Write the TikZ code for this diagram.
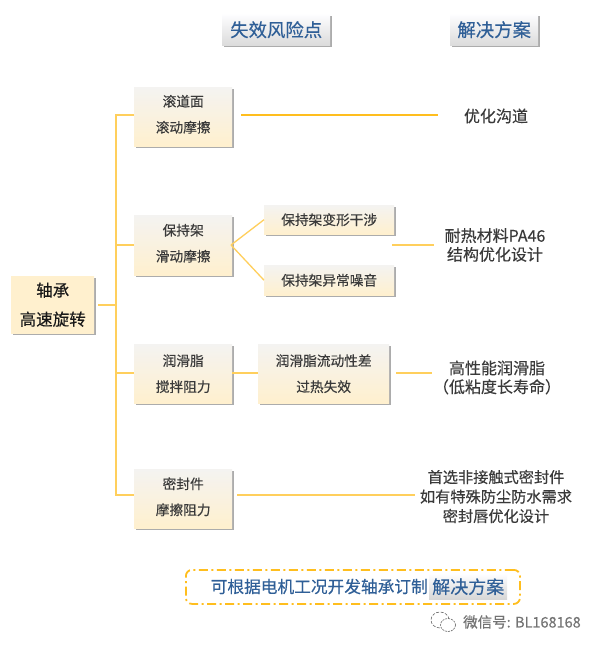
\documentclass[tikz,border=0pt]{standalone}
\usepackage{fontspec}
\setmainfont{Noto Sans CJK SC}[FakeBold=0.35]
\usetikzlibrary{shadows,calc}
\definecolor{lineY}{HTML}{FFCF5C}
\definecolor{lineO}{HTML}{FFBE1E}
\definecolor{boxT}{HTML}{F4F3F1}
\definecolor{boxB}{HTML}{FFF0CE}
\definecolor{txt}{HTML}{3A3A3A}
\definecolor{blueT}{HTML}{2F5F97}
\tikzset{
  x=1pt,y=-1pt,
  riskbox/.style={rectangle,anchor=north west,top color=boxT,bottom color=boxB,draw=none,inner sep=0pt,align=center,
    text=txt,font=\fontsize{13.7}{26}\selectfont,
    drop shadow={shadow xshift=1.8pt,shadow yshift=-1.8pt,fill=black!50,opacity=.65}},
  rootbox/.style={riskbox,top color=boxB,bottom color=boxB,font=\fontsize{16.5}{29}\selectfont,text=black!90},
  headbox/.style={rectangle,anchor=north west,top color=white!90!blue!6,bottom color=black!14,inner sep=0pt,
    text=blueT,font=\fontsize{18.4}{20}\selectfont,
    drop shadow={shadow xshift=1.5pt,shadow yshift=-1.5pt,fill=black!50,opacity=.65}},
  soln/.style={align=center,text=txt,font=\fontsize{16}{18.8}\selectfont,inner sep=0pt},
  wire/.style={draw=lineY,line width=1.3pt},
}
\newcommand{\rbox}[6]{\node[#1,minimum width=#4pt,minimum height=#5pt] (#2) at #3 {#6};}
\newcommand{\lift}[1]{\rule[-#1pt]{0pt}{#1pt}}
\begin{document}
\begin{tikzpicture}
\useasboundingbox[fill=white] (0,0) rectangle (600,649);
% headers
\rbox{headbox}{hrisk}{(222,14)}{108}{31}{失效风险点}
\rbox{headbox}{hsol}{(450,14)}{88}{31}{解决方案}
% boxes
\rbox{rootbox}{root}{(11,276)}{83}{57}{轴承\\高速旋转}
\rbox{riskbox}{a}{(134,87)}{98}{59}{滚道面\\滚动摩擦\lift{6}}
\rbox{riskbox}{b}{(134,215)}{98}{60}{保持架\\滑动摩擦\lift{5}}
\rbox{riskbox}{c}{(134,344)}{98}{59}{润滑脂\\搅拌阻力}
\rbox{riskbox}{d}{(134,469)}{98}{59}{密封件\\摩擦阻力\lift{5}}
\rbox{riskbox}{b1}{(264,205)}{130}{29}{保持架变形干涉}
\rbox{riskbox}{b2}{(264,265)}{130}{30}{保持架异常噪音}
\rbox{riskbox}{c1}{(258,344)}{131}{59}{润滑脂流动性差\\过热失效}
% solutions
\node[soln] (sa) at (496,116) {优化沟道};
\node[soln] (sb) at (495,245) {耐热材料PA46\\结构优化设计};
\node[soln] (sc) at (497,377.5) {高性能润滑脂\\（低粘度长寿命）};
\node[soln,font=\fontsize{15.2}{19.5}\selectfont] (sd) at (496,496.5) {首选非接触式密封件\\如有特殊防尘防水需求\\密封唇优化设计};
% connectors
\coordinate (trunkTop) at (116,115);
\coordinate (trunkBot) at (116,495);
\coordinate (trunkMid) at (116,305);
\coordinate (trunkB) at (116,245);
\coordinate (trunkC) at (116,373);
\coordinate (fork) at (231,245);
\draw[wire] (a.west |- trunkTop) -- (trunkTop) -- (trunkBot) -- (d.west |- trunkBot);
\draw[wire] (trunkMid) -- ++(-18,0);
\draw[wire] (trunkB) -- (b.west |- fork);
\draw[wire] (trunkC) -- (c.west |- trunkC);
\draw[wire] (fork) -- (b1.west);
\draw[wire] (fork) -- (b2.west);
\draw[wire] (c.east |- trunkC) -- (c1.west |- trunkC);
\coordinate (a0) at (241,115); \coordinate (a1) at (438,115);
\draw[draw=lineO,line width=2pt] (a0) -- (a1);
\coordinate (b0) at (392,245); \coordinate (b3) at (434,245);
\draw[wire] (b0) -- (b3);
\coordinate (c0) at (396,373); \coordinate (c2) at (432,373);
\draw[wire] (c0) -- (c2);
\coordinate (d0) at (237,495); \coordinate (d1) at (415,495);
\draw[wire] (d0) -- (d1);
% bottom note
\node[rectangle,anchor=north west,minimum width=334pt,minimum height=34pt,rounded corners=6pt,
  draw=lineO,line width=1.8pt,dash pattern=on 9pt off 3.5pt on 2pt off 3.5pt] (note) at (185,569) {};
\node[anchor=north west,top color=white!90!blue!6,bottom color=black!16,minimum width=78pt,minimum height=25pt,inner sep=0pt,
  text=blueT,font=\fontsize{18}{20}\selectfont] (nsol) at (429,574) {解决方案};
\node[anchor=east,inner sep=0pt,text=blueT,font=\fontsize{16.7}{18}\selectfont] (ntxt) at (428,586.5) {可根据电机工况开发轴承订制};
% watermark
\draw[black!60,line width=.6pt,fill=white,dash pattern=on 3pt off 1.5pt] (440,620) ellipse (9 and 8);
\draw[black!60,line width=.6pt,fill=white,dash pattern=on 2pt off 1pt] (448,625) ellipse (7.5 and 6.5);
\node[anchor=west,inner sep=0pt,text=black!55,font=\fontsize{14.5}{15}\selectfont] (wm) at (463,622) {微信号: BL168168};
\end{tikzpicture}
\end{document}
